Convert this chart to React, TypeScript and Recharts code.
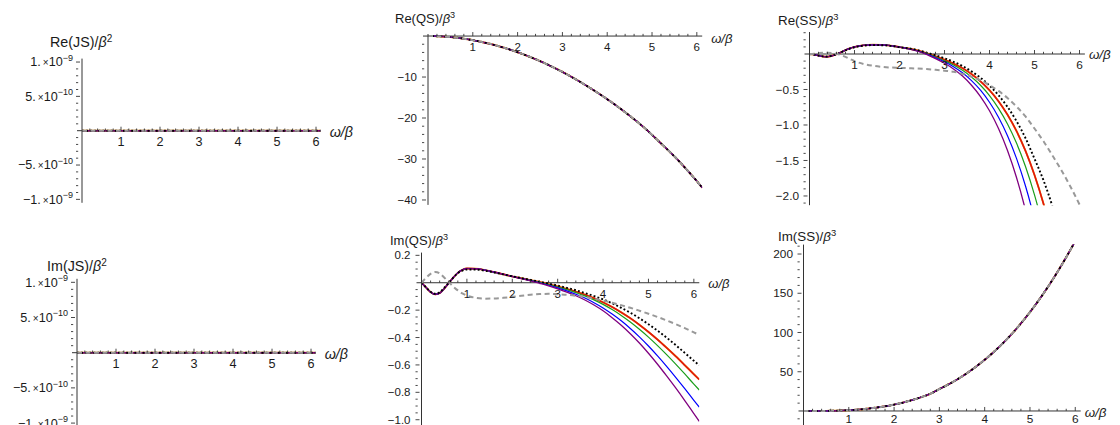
import React from 'react';
import { LineChart, Line, XAxis, YAxis, ReferenceLine, ReferenceDot } from 'recharts';

// ---------------- data ----------------
const omega = [0, 0.1, 0.2, 0.3, 0.4, 0.5, 0.6, 0.7, 0.8, 0.9, 1.0, 1.2, 1.4, 1.6, 1.8, 2.0, 2.2, 2.4, 2.6, 2.8, 3.0, 3.2, 3.4, 3.6, 3.8, 4.0, 4.2, 4.4, 4.6, 4.8, 5.0, 5.2, 5.4, 5.6, 5.8, 6.0, 6.12];
const jsOmega = [0, 1, 2, 3, 4, 5, 6, 6.12];

const reJS = [0, 0, 0, 0, 0, 0, 0, 0];
const imJS = [0, 0, 0, 0, 0, 0, 0, 0];

const reQS = [0, -0.01, -0.04, -0.09, -0.16, -0.25, -0.36, -0.5, -0.65, -0.82, -1.0, -1.45, -1.95, -2.55, -3.2, -3.95, -4.75, -5.65, -6.6, -7.65, -8.75, -9.95, -11.2, -12.55, -13.95, -15.4, -16.95, -18.6, -20.3, -22.1, -24.1, -26.2, -28.3, -30.5, -32.9, -35.4, -37.0];

const imSS = [0, 0, 0.01, 0.03, 0.07, 0.13, 0.22, 0.35, 0.52, 0.74, 1.0, 1.75, 2.8, 4.2, 5.9, 8.1, 10.7, 13.9, 17.6, 21.9, 28, 33.8, 40.4, 47.8, 56.1, 65.2, 75.2, 86.2, 98.2, 111.5, 126, 141.6, 158.4, 176.5, 195.9, 216.5, 229.5];

const imQSPurple = [0, -0.035, -0.068, -0.085, -0.076, -0.043, -0.003, 0.038, 0.072, 0.094, 0.104, 0.102, 0.092, 0.078, 0.062, 0.046, 0.03, 0.014, -0.004, -0.023, -0.045, -0.068, -0.095, -0.126, -0.163, -0.205, -0.255, -0.31, -0.372, -0.44, -0.515, -0.595, -0.68, -0.768, -0.86, -0.955, -1.012];
const imQSBlue = [0, -0.035, -0.068, -0.085, -0.076, -0.043, -0.003, 0.038, 0.072, 0.094, 0.104, 0.102, 0.092, 0.078, 0.062, 0.046, 0.031, 0.016, 0.0, -0.018, -0.038, -0.059, -0.084, -0.112, -0.146, -0.184, -0.229, -0.278, -0.334, -0.395, -0.462, -0.534, -0.61, -0.69, -0.773, -0.858, -0.908];
const imQSGreen = [0, -0.035, -0.068, -0.085, -0.076, -0.043, -0.003, 0.038, 0.072, 0.094, 0.104, 0.102, 0.092, 0.078, 0.062, 0.046, 0.032, 0.018, 0.003, -0.013, -0.031, -0.05, -0.072, -0.096, -0.125, -0.158, -0.196, -0.239, -0.287, -0.34, -0.397, -0.459, -0.525, -0.594, -0.666, -0.74, -0.783];
const imQSRed = [0, -0.035, -0.068, -0.085, -0.076, -0.043, -0.003, 0.038, 0.072, 0.094, 0.104, 0.102, 0.092, 0.078, 0.062, 0.046, 0.033, 0.019, 0.005, -0.01, -0.027, -0.045, -0.065, -0.087, -0.113, -0.143, -0.177, -0.216, -0.259, -0.307, -0.359, -0.415, -0.475, -0.537, -0.602, -0.668, -0.707];
const imQSBlack = [0, -0.033, -0.066, -0.08, -0.07, -0.037, 0.0, 0.037, 0.07, 0.089, 0.097, 0.096, 0.088, 0.075, 0.061, 0.047, 0.034, 0.021, 0.008, -0.006, -0.021, -0.037, -0.055, -0.075, -0.097, -0.122, -0.15, -0.183, -0.219, -0.259, -0.303, -0.35, -0.401, -0.455, -0.512, -0.57, -0.603];
const imQSGray = [0, 0.035, 0.065, 0.078, 0.068, 0.038, 0.005, -0.028, -0.056, -0.078, -0.094, -0.11, -0.116, -0.115, -0.11, -0.103, -0.095, -0.088, -0.083, -0.081, -0.084, -0.088, -0.095, -0.104, -0.116, -0.13, -0.146, -0.164, -0.183, -0.204, -0.226, -0.25, -0.275, -0.302, -0.331, -0.362, -0.382];

const reSSPurple = [0, -0.008, -0.022, -0.035, -0.038, -0.025, -0.003, 0.025, 0.055, 0.08, 0.1, 0.122, 0.13, 0.128, 0.118, 0.097, 0.072, 0.04, -0.005, -0.065, -0.13, -0.21, -0.31, -0.44, -0.6, -0.8, -1.05, -1.36, -1.74, -2.2, -2.75, -3.4, -4.1, -4.9, -5.8, -6.8, -7.4];
const reSSBlue = [0, -0.008, -0.022, -0.035, -0.038, -0.025, -0.003, 0.025, 0.055, 0.08, 0.1, 0.122, 0.13, 0.128, 0.118, 0.097, 0.074, 0.043, 0.0, -0.052, -0.11, -0.18, -0.265, -0.375, -0.51, -0.68, -0.89, -1.15, -1.47, -1.86, -2.33, -2.9, -3.55, -4.3, -5.1, -6.0, -6.6];
const reSSGreen = [0, -0.008, -0.022, -0.035, -0.038, -0.025, -0.003, 0.025, 0.055, 0.08, 0.1, 0.122, 0.13, 0.128, 0.118, 0.097, 0.076, 0.046, 0.005, -0.042, -0.095, -0.155, -0.23, -0.325, -0.44, -0.585, -0.765, -0.985, -1.255, -1.585, -1.985, -2.46, -3.0, -3.65, -4.4, -5.2, -5.7];
const reSSRed = [0, -0.008, -0.022, -0.035, -0.038, -0.025, -0.003, 0.025, 0.055, 0.08, 0.1, 0.122, 0.13, 0.128, 0.118, 0.097, 0.078, 0.05, 0.01, -0.032, -0.08, -0.135, -0.2, -0.283, -0.385, -0.51, -0.665, -0.855, -1.085, -1.365, -1.705, -2.11, -2.59, -3.15, -3.8, -4.55, -5.0];
const reSSBlack = [0, -0.008, -0.021, -0.033, -0.036, -0.024, -0.003, 0.023, 0.052, 0.076, 0.095, 0.117, 0.125, 0.124, 0.115, 0.096, 0.08, 0.055, 0.02, -0.018, -0.06, -0.11, -0.17, -0.245, -0.335, -0.445, -0.58, -0.745, -0.945, -1.185, -1.475, -1.78, -2.15, -2.6, -3.15, -3.8, -4.2];
const reSSGray = [0, 0.005, 0.012, 0.017, 0.018, 0.013, 0.003, -0.015, -0.04, -0.07, -0.1, -0.14, -0.165, -0.18, -0.19, -0.195, -0.2, -0.205, -0.212, -0.222, -0.235, -0.25, -0.28, -0.32, -0.37, -0.44, -0.52, -0.62, -0.74, -0.88, -1.05, -1.23, -1.43, -1.64, -1.87, -2.12, -2.28];

// tick labels
const xTickValues = [1, 2, 3, 4, 5, 6];
const xTickLabels = ['1', '2', '3', '4', '5', '6'];
const jsTickValues = [1e-9, 5e-10, -5e-10, -1e-9];
const jsTickMantissas = ['1.', '5.', '\u22125.', '\u22121.'];
const jsTickExponents = ['\u22129', '\u221210', '\u221210', '\u22129'];
const reQSTickValues = [-10, -20, -30, -40];
const reQSTickLabels = ['\u221210', '\u221220', '\u221230', '\u221240'];
const imQSTickValues = [0.2, -0.2, -0.4, -0.6, -0.8, -1.0];
const imQSTickLabels = ['0.2', '\u22120.2', '\u22120.4', '\u22120.6', '\u22120.8', '\u22121.0'];
const reSSTickValues = [-0.5, -1.0, -1.5, -2.0];
const reSSTickLabels = ['\u22120.5', '\u22121.0', '\u22121.5', '\u22122.0'];
const imSSTickValues = [50, 100, 150, 200];
const imSSTickLabels = ['50', '100', '150', '200'];

// ---------------- styling ----------------
const FONT = '"Liberation Sans", Arial, Helvetica, sans-serif';
const AXIS = '#333333';
const TXT = '#1a1a1a';
const CH = 440;
const CW = 1120;
const YW = 1;

const SERIES = [
  { key: 'orange', color: '#f08a00', width: 1.9, dash: undefined as string | undefined },
  { key: 'red', color: '#e0140e', width: 1.5, dash: undefined },
  { key: 'green', color: '#1a9e1a', width: 1.2, dash: undefined },
  { key: 'blue', color: '#0000ff', width: 1.2, dash: undefined },
  { key: 'purple', color: '#800080', width: 1.3, dash: undefined },
  { key: 'black', color: '#000000', width: 1.9, dash: '1.9 2.2' },
  { key: 'gray', color: '#999999', width: 2, dash: '5 3.5' },
];

function buildRows(xs: number[], s: Record<string, number[]>) {
  return xs.map((w, i) => {
    const r: Record<string, number> = { w };
    Object.keys(s).forEach((k) => {
      r[k] = s[k][i];
    });
    return r;
  });
}

function stepTicks(lo: number, hi: number, step: number) {
  const out: number[] = [];
  for (let k = Math.ceil(lo / step - 1e-9); k <= Math.floor(hi / step + 1e-9); k++) {
    if (k !== 0) out.push(+(k * step).toPrecision(10));
  }
  return out;
}

type Cfg = {
  key: string;
  rows: Record<string, number>[];
  x0: number;
  xRight: number;
  yTop: number;
  yBottom: number;
  yDomain: [number, number];
  minorStep: number;
  majors: number[];
  renderLabel: (i: number) => React.ReactNode;
  title: string;
  power: string;
  titleDx: number;
  titleDy: number;
  labelDx: number;
  labelDy: number;
  gap: number;
  xLabelDy: number;
  fs: number;
};

const rowsReJS = buildRows(jsOmega, { orange: reJS, red: reJS, green: reJS, blue: reJS, purple: reJS, gray: reJS, black: reJS });
const rowsImJS = buildRows(jsOmega, { orange: imJS, red: imJS, green: imJS, blue: imJS, purple: imJS, gray: imJS, black: imJS });
const rowsReQS = buildRows(omega, { orange: reQS, red: reQS, green: reQS, blue: reQS, purple: reQS, gray: reQS, black: reQS });
const rowsImQS = buildRows(omega, { orange: imQSRed, red: imQSRed, green: imQSGreen, blue: imQSBlue, purple: imQSPurple, gray: imQSGray, black: imQSBlack });
const rowsReSS = buildRows(omega, { orange: reSSRed, red: reSSRed, green: reSSGreen, blue: reSSBlue, purple: reSSPurple, gray: reSSGray, black: reSSBlack });
const rowsImSS = buildRows(omega, { orange: imSS, red: imSS, green: imSS, blue: imSS, purple: imSS, gray: imSS, black: imSS });

const jsLabel = (i: number) => (
  <>
    <tspan>{jsTickMantissas[i]}</tspan>
    <tspan fontSize={10}>{'\u2009\u00d7'}</tspan>
    <tspan>{'10'}</tspan>
    <tspan dy={-5.5} fontSize={9}>{jsTickExponents[i]}</tspan>
  </>
);

const panels: Cfg[] = [
  {
    key: 'reJS', rows: rowsReJS, x0: 82, xRight: 320.7, yTop: 58.6, yBottom: 202.8,
    yDomain: [-1.05e-9, 1.05e-9], minorStep: 1e-10, majors: jsTickValues, renderLabel: jsLabel,
    title: 'Re(JS)/', power: '2', titleDx: -32, titleDy: -12, labelDx: 9, labelDy: 6, gap: 3, xLabelDy: 15.5, fs: 1.1,
  },
  {
    key: 'imJS', rows: rowsImJS, x0: 77, xRight: 315.7, yTop: 278.8, yBottom: 426.6,
    yDomain: [-1.05e-9, 1.05e-9], minorStep: 1e-10, majors: jsTickValues, renderLabel: jsLabel,
    title: 'Im(JS)/', power: '2', titleDx: -30, titleDy: -7.5, labelDx: 9, labelDy: 6, gap: 3, xLabelDy: 15.5, fs: 1.1,
  },
  {
    key: 'reQS', rows: rowsReQS, x0: 428, xRight: 702.2, yTop: 34, yBottom: 204.9,
    yDomain: [-41.2, 0.5], minorStep: 2, majors: reQSTickValues, renderLabel: (i) => reQSTickLabels[i],
    title: 'Re(QS)/', power: '3', titleDx: -33, titleDy: -11.5, labelDx: 9, labelDy: 7, gap: 5, xLabelDy: 15, fs: 1,
  },
  {
    key: 'imQS', rows: rowsImQS, x0: 421.5, xRight: 699.3, yTop: 252.6, yBottom: 425.2,
    yDomain: [-1.04, 0.22], minorStep: 0.05, majors: imQSTickValues, renderLabel: (i) => imQSTickLabels[i],
    title: 'Im(QS)/', power: '3', titleDx: -31.5, titleDy: -8, labelDx: 9, labelDy: 5, gap: 5, xLabelDy: 15, fs: 1,
  },
  {
    key: 'reSS', rows: rowsReSS, x0: 809.5, xRight: 1084.9, yTop: 32, yBottom: 205.2,
    yDomain: [-2.13, 0.31], minorStep: 0.1, majors: reSSTickValues, renderLabel: (i) => reSSTickLabels[i],
    title: 'Re(SS)/', power: '3', titleDx: -31.5, titleDy: -7.5, labelDx: 4, labelDy: 5, gap: 4.5, xLabelDy: 15, fs: 1.03,
  },
  {
    key: 'imSS', rows: rowsImSS, x0: 803.5, xRight: 1080.7, yTop: 244.6, yBottom: 425.1,
    yDomain: [-18, 212], minorStep: 10, majors: imSSTickValues, renderLabel: (i) => imSSTickLabels[i],
    title: 'Im(SS)/', power: '3', titleDx: -25.5, titleDy: -3.5, labelDx: 4, labelDy: 6, gap: 4.5, xLabelDy: 12.5, fs: 1.03,
  },
];

const xMinor = stepTicks(0.1, 6.05, 0.2);

function Panel({ cfg }: { cfg: Cfg }) {
  const yTicks = stepTicks(cfg.yDomain[0], cfg.yDomain[1], cfg.minorStep);
  const majorIndex = (v: number) => cfg.majors.findIndex((m) => Math.abs(m - v) <= Math.abs(cfg.minorStep) * 1e-3);
  const tickFs = 11.5 * cfg.fs;
  const titleFs = 13 * cfg.fs;

  const renderYTick = (p: any) => {
    const { x, y, payload } = p;
    const idx = majorIndex(payload.value);
    const len = idx >= 0 ? 4 : 2.2;
    return (
      <g>
        <line x1={x} x2={x + len} y1={y} y2={y} stroke={AXIS} strokeWidth={0.9} />
        {idx >= 0 && (
          <text x={x - cfg.gap} y={y} dy="0.35em" textAnchor="end" fontSize={tickFs} fontFamily={FONT} fill={TXT}>
            {cfg.renderLabel(idx)}
          </text>
        )}
      </g>
    );
  };

  return (
    <div style={{ position: 'absolute', left: 0, top: 0 }}>
      <LineChart
        width={CW}
        height={CH}
        data={cfg.rows}
        margin={{ top: cfg.yTop, bottom: CH - cfg.yBottom, left: cfg.x0 - YW, right: CW - cfg.xRight }}
      >
        <XAxis dataKey="w" type="number" domain={[0, 6.12]} allowDataOverflow hide height={0} />
        <YAxis
          type="number"
          domain={cfg.yDomain}
          allowDataOverflow
          width={YW}
          ticks={yTicks}
          interval={0}
          tickLine={false}
          tickMargin={0}
          axisLine={{ stroke: AXIS, strokeWidth: 1 }}
          tick={renderYTick}
        />
        <ReferenceLine y={0} stroke={AXIS} strokeWidth={1} ifOverflow="visible" />
        {SERIES.map((s) => (
          <Line
            key={s.key}
            type="monotone"
            dataKey={s.key}
            stroke={s.color}
            strokeWidth={s.width}
            strokeDasharray={s.dash}
            dot={false}
            activeDot={false}
            isAnimationActive={false}
          />
        ))}
        <ReferenceDot
          x={0}
          y={0}
          ifOverflow="visible"
          shape={(p: any) => <line x1={p.cx - 5} x2={p.cx} y1={p.cy} y2={p.cy} stroke={AXIS} strokeWidth={1} />}
        />
        {xMinor.map((t) => {
          const li = xTickValues.findIndex((m) => Math.abs(m - t) < 1e-6);
          return (
            <ReferenceDot
              key={'xt' + t}
              x={t}
              y={0}
              ifOverflow="visible"
              shape={(p: any) => (
                <g>
                  <line x1={p.cx} x2={p.cx} y1={p.cy} y2={p.cy - (li >= 0 ? 4 : 2.2)} stroke={AXIS} strokeWidth={0.9} />
                  {li >= 0 && (
                    <text x={p.cx} y={p.cy + cfg.xLabelDy} textAnchor="middle" fontSize={tickFs} fontFamily={FONT} fill={TXT}>
                      {xTickLabels[li]}
                    </text>
                  )}
                </g>
              )}
            />
          );
        })}
        <ReferenceDot
          x={6.12}
          y={0}
          ifOverflow="visible"
          shape={(p: any) => (
            <text x={p.cx + cfg.labelDx} y={p.cy + cfg.labelDy} fontSize={titleFs} fontFamily={FONT} fontStyle="italic" fill={TXT}>
              {'\u03c9/\u03b2'}
            </text>
          )}
        />
        <ReferenceDot
          x={0}
          y={cfg.yDomain[1]}
          ifOverflow="visible"
          shape={(p: any) => (
            <text x={p.cx + cfg.titleDx} y={p.cy + cfg.titleDy} fontSize={titleFs} fontFamily={FONT} fill={TXT}>
              <tspan>{cfg.title}</tspan>
              <tspan fontStyle="italic">{'\u03b2'}</tspan>
              <tspan dy={-5} fontSize={titleFs * 0.7}>{cfg.power}</tspan>
            </text>
          )}
        />
      </LineChart>
    </div>
  );
}

export default function App() {
  return (
    <div style={{ position: 'absolute', left: 0, top: 0, width: CW, height: 425, background: '#ffffff', overflow: 'hidden' }}>
      {panels.map((c) => (
        <Panel key={c.key} cfg={c} />
      ))}
    </div>
  );
}
